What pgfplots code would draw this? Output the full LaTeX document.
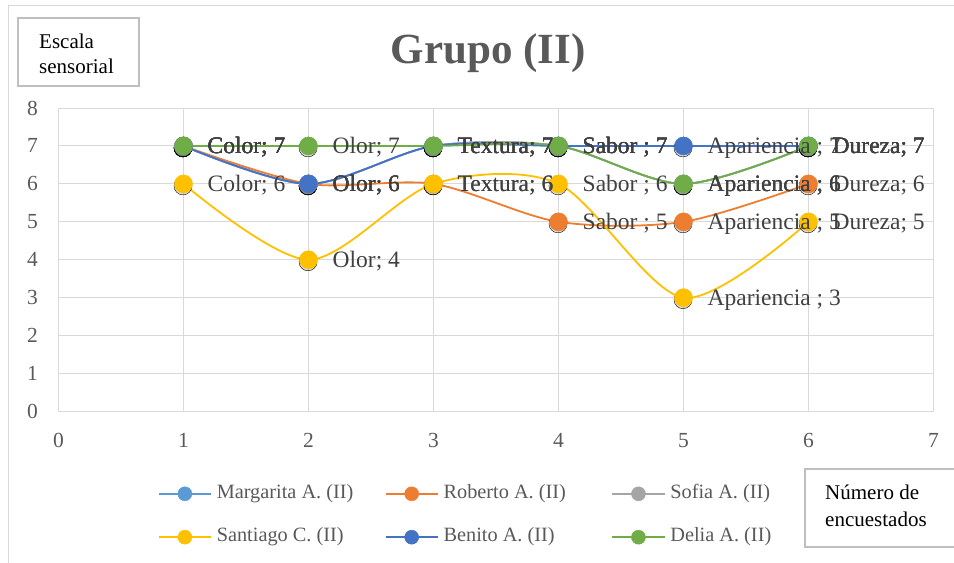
\documentclass[border=0pt]{standalone}
\usepackage{pgfplots}
\pgfplotsset{compat=1.18}
\usepackage{pgfplotstable}
\usepackage{fontspec}
\setmainfont{Liberation Serif}
\definecolor{cMar}{HTML}{5B9BD5}
\definecolor{cRob}{HTML}{ED7D31}
\definecolor{cSof}{HTML}{A5A5A5}
\definecolor{cSan}{HTML}{FFC000}
\definecolor{cBen}{HTML}{4472C4}
\definecolor{cDel}{HTML}{70AD47}
\definecolor{gridgray}{HTML}{D9D9D9}
\definecolor{txtgray}{HTML}{595959}
\definecolor{lblgray}{HTML}{404040}
\definecolor{boxgray}{HTML}{BFBFBF}
\protected\def\sc{;}

\pgfplotstableread[col sep=comma,row sep=\\]{
x,y,lab\\
1,7,Color\sc\space 7\\
2,6,Olor\sc\space 6\\
3,7,Textura\sc\space 7\\
4,7,Sabor\space\sc\space 7\\
5,6,Apariencia\space\sc\space 6\\
6,7,Dureza\sc\space 7\\
}\tMar
\pgfplotstableread[col sep=comma,row sep=\\]{
x,y,lab\\
1,7,Color\sc\space 7\\
2,6,Olor\sc\space 6\\
3,6,Textura\sc\space 6\\
4,5,Sabor\space\sc\space 5\\
5,5,Apariencia\space\sc\space 5\\
6,6,Dureza\sc\space 6\\
}\tRob
\pgfplotstableread[col sep=comma,row sep=\\]{
x,y,lab\\
1,7,Color\sc\space 7\\
2,6,Olor\sc\space 6\\
3,7,Textura\sc\space 7\\
4,7,Sabor\space\sc\space 7\\
5,6,Apariencia\space\sc\space 6\\
6,7,Dureza\sc\space 7\\
}\tSof
\pgfplotstableread[col sep=comma,row sep=\\]{
x,y,lab\\
1,6,Color\sc\space 6\\
2,4,Olor\sc\space 4\\
3,6,Textura\sc\space 6\\
4,6,Sabor\space\sc\space 6\\
5,3,Apariencia\space\sc\space 3\\
6,5,Dureza\sc\space 5\\
}\tSan
\pgfplotstableread[col sep=comma,row sep=\\]{
x,y,lab\\
1,7,Color\sc\space 7\\
2,6,Olor\sc\space 6\\
3,7,Textura\sc\space 7\\
4,7,Sabor\space\sc\space 7\\
5,7,Apariencia\space\sc\space 7\\
6,7,Dureza\sc\space 7\\
}\tBen
\pgfplotstableread[col sep=comma,row sep=\\]{
x,y,lab\\
1,7,Color\sc\space 7\\
2,7,Olor\sc\space 7\\
3,7,Textura\sc\space 7\\
4,7,Sabor\space\sc\space 7\\
5,6,Apariencia\space\sc\space 6\\
6,7,Dureza\sc\space 7\\
}\tDel

\newcommand{\shadowplot}[1]{\addplot[forget plot, only marks, mark=*, mark size=9bp, mark options={draw=none, fill=black, fill opacity=0.14}, yshift=-2bp, xshift=-0.5bp] table[x=x,y=y]{#1};}
\newcommand{\serie}[3]{\addplot[color=#2, line width=1.8bp, smooth, tension=0.5, mark=*, mark size=9bp, mark options={fill=#2, draw=#2, line width=0.5bp}] table[x=x,y=y]{#1};
\addlegendentry{\makebox[168bp][l]{#3}}}
\newcommand{\labelplot}[1]{\addplot[forget plot, draw=none, mark=none, point meta=explicit symbolic, nodes near coords={\pgfplotspointmeta}, every node near coord/.append style={anchor=base west, inner sep=0pt, xshift=24bp, yshift=-7.8bp, font=\fontsize{23.5bp}{28bp}\selectfont, text=lblgray}] table[x=x,y=y,meta=lab]{#1};}

\begin{document}
\begin{tikzpicture}
\useasboundingbox (0,0) rectangle (954bp,563bp);
\clip (0,0) rectangle (954bp,563bp);
\draw[gridgray, line width=1bp] (8.5bp,-5bp) -- (8.5bp,557bp) -- (960bp,557bp);
\node[anchor=base, inner sep=0pt, font=\fontsize{43bp}{50bp}\selectfont\bfseries, text=txtgray] at (488bp,499bp) {Grupo (II)};
\draw[boxgray, line width=1.2bp] (18bp,477bp) rectangle (139bp,545bp);
\node[anchor=base west, inner sep=0pt, font=\fontsize{21bp}{25bp}\selectfont] at (39bp,514.7bp) {Escala};
\node[anchor=base west, inner sep=0pt, font=\fontsize{21bp}{25bp}\selectfont] at (39bp,489.7bp) {sensorial};
\draw[boxgray, line width=1.2bp] (805bp,16bp) rectangle (975bp,94bp);
\node[anchor=base west, inner sep=0pt, font=\fontsize{21bp}{25bp}\selectfont] at (825bp,63.7bp) {Número de};
\node[anchor=base west, inner sep=0pt, font=\fontsize{21bp}{25bp}\selectfont] at (825bp,37bp) {encuestados};
\begin{axis}[
  at={(58.5bp,151.5bp)}, anchor=south west,
  scale only axis, width=875bp, height=303.5bp,
  xmin=0, xmax=7, ymin=0, ymax=8,
  xtick={0,...,7}, ytick={0,...,8},
  grid=major, major grid style={gridgray, line width=1bp},
  axis line style={gridgray, line width=1bp},
  major tick length=0pt,
  /pgf/number format/assume math mode=true,
  tick label style={font=\fontsize{21.5bp}{24bp}\selectfont, text=txtgray, inner sep=0pt},
  xticklabel style={anchor=north, yshift=-21.5bp},
  yticklabel style={anchor=east, xshift=-20.5bp},
  clip=false,
  legend columns=3,
  legend cell align=left,
  legend image code/.code={\draw[#1, mark repeat=2, mark phase=2, mark size=7bp] plot coordinates {(0bp,0bp)(26bp,0bp)(52bp,0bp)};},
  legend style={at={(0.1137,-0.2399)}, anchor=north west, draw=none, fill=none,
    inner sep=0pt, outer sep=0pt, font=\fontsize{20.3bp}{24bp}\selectfont, text=txtgray,
    column sep=0pt, row sep=24.4bp,
    nodes={inner sep=0pt, text height=14bp, text depth=5bp},
    /tikz/every odd column/.append style={column sep=5bp}},
]
\shadowplot{\tMar}
\shadowplot{\tRob}
\shadowplot{\tSof}
\shadowplot{\tSan}
\shadowplot{\tBen}
\shadowplot{\tDel}
\serie{\tMar}{cMar}{Margarita A. (II)}
\serie{\tRob}{cRob}{Roberto A. (II)}
\serie{\tSof}{cSof}{Sofia A. (II)}
\serie{\tSan}{cSan}{Santiago C. (II)}
\serie{\tBen}{cBen}{Benito A. (II)}
\serie{\tDel}{cDel}{Delia A. (II)}
\end{axis}
\begin{axis}[
  at={(58.5bp,151.5bp)}, anchor=south west,
  scale only axis, width=875bp, height=303.5bp,
  xmin=0, xmax=7, ymin=0, ymax=8,
  hide axis, clip=false,
]
\labelplot{\tMar}
\labelplot{\tRob}
\labelplot{\tSof}
\labelplot{\tSan}
\labelplot{\tBen}
\labelplot{\tDel}
\end{axis}
\end{tikzpicture}
\end{document}
